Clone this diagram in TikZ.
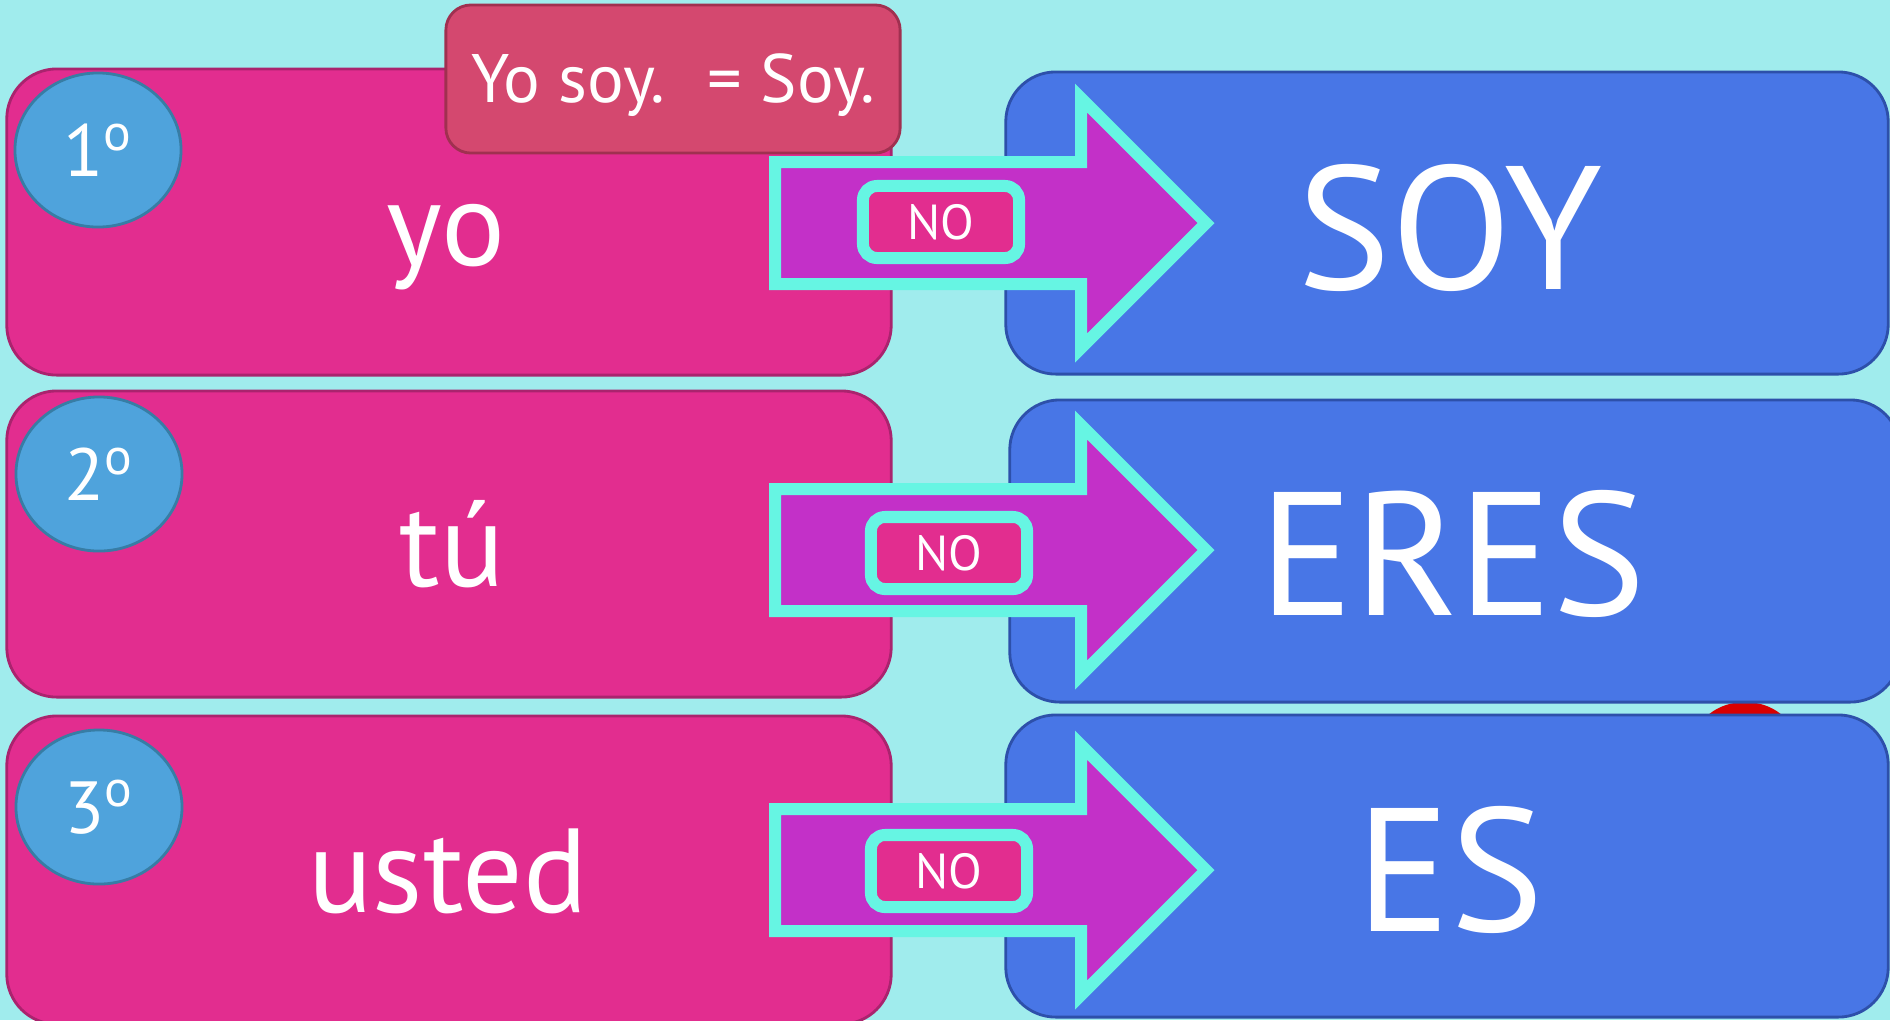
\documentclass[tikz,border=0pt]{standalone}
\usepackage{fontspec}
\setmainfont{PT Sans}
\usetikzlibrary{shapes.geometric}

\definecolor{bgcyan}{RGB}{160,236,237}
\definecolor{boxpink}{RGB}{226,45,143}
\definecolor{edgepink}{RGB}{170,35,110}
\definecolor{boxblue}{RGB}{72,118,230}
\definecolor{edgeblue}{RGB}{45,80,170}
\definecolor{circblue}{RGB}{79,163,220}
\definecolor{edgecirc}{RGB}{55,125,165}
\definecolor{arrowviolet}{RGB}{195,48,200}
\definecolor{glow}{RGB}{102,245,227}
\definecolor{notepink}{RGB}{212,72,111}
\definecolor{edgenote}{RGB}{160,48,80}

\tikzset{
  pinkbox/.style={draw=edgepink, fill=boxpink, line width=0.8pt, rounded corners=0.5cm,
    minimum width=8.84cm, minimum height=3.06cm},
  bluebox/.style={draw=edgeblue, fill=boxblue, line width=0.8pt, rounded corners=0.5cm,
    minimum width=8.82cm, minimum height=3.02cm},
  numcirc/.style={ellipse, draw=edgecirc, fill=circblue, line width=0.8pt,
    minimum width=1.66cm, minimum height=1.54cm, text=white, font=\fontsize{21}{21}\selectfont},
  nobox/.style={draw=glow, fill=boxpink, line width=0.12cm, rounded corners=0.14cm,
    minimum width=1.56cm, minimum height=0.72cm, text=white, font=\fontsize{14}{14}\selectfont},
  pronoun/.style={anchor=base, text=white, font=\fontsize{34}{34}\selectfont},
  verbform/.style={anchor=base, text=white, font=\fontsize{50}{50}\selectfont},
}

\begin{document}
\begin{tikzpicture}[x=0.01cm, y=-0.01cm]
    \clip (0,0) rectangle (1890,1020);
    \fill[bgcyan] (0,0) rectangle (1890,1020);

    % bit of something peeking out behind the blue boxes
    \fill[red!85!black] (1745,742) ellipse [x radius=50, y radius=40];

    % left column
    \node[pinkbox] (pink1) at (449,222) {};
    \node[pinkbox] (pink2) at (449,544) {};
    \node[pinkbox, minimum height=3.08cm] (pink3) at (449,870) {};

    % right column
    \node[bluebox] (blue1) at (1447,223) {};
    \node[bluebox, minimum width=8.9cm] (blue2) at (1455,551) {};
    \node[bluebox] (blue3) at (1447,866) {};

    \node[numcirc] (num1) at (98,150) {1\textsuperscript{o}};
    \node[numcirc] (num2) at (99,474) {2\textsuperscript{o}};
    \node[numcirc] (num3) at (99,807) {3\textsuperscript{o}};

    \node[pronoun] (yo) at (446,265) {yo};
    \node[pronoun] (tu) at (452,586) {tú};
    \node[pronoun] (usted) at (448,912) {usted};

    % arrows
    \foreach \y in {223,550,870} {
        \draw[glow, fill=arrowviolet, line width=0.12cm, miter limit=10]
            (775,\y-61) -- (1081,\y-61) -- (1081,\y-125) -- (1206,\y)
            -- (1081,\y+125) -- (1081,\y+61) -- (775,\y+61) -- cycle;
    }

    \node[nobox] (no1) at (941,222) {NO};
    \node[nobox] (no2) at (949,553) {NO};
    \node[nobox] (no3) at (949,871) {NO};

    \node[verbform] (soy) at (1450,289) {SOY};
    \node[verbform] (eres) at (1453,615) {ERES};
    \node[verbform] (es) at (1450,931) {ES};

    % note on top
    \node[draw=edgenote, fill=notepink, line width=0.8pt, rounded corners=0.25cm,
        minimum width=4.54cm, minimum height=1.48cm] (note) at (673,79) {};
    \node[anchor=base, text=white, font=\fontsize{19.5}{19.5}\selectfont]
        (notetext) at (673,102) {Yo soy.~ = Soy.};
\end{tikzpicture}
\end{document}
